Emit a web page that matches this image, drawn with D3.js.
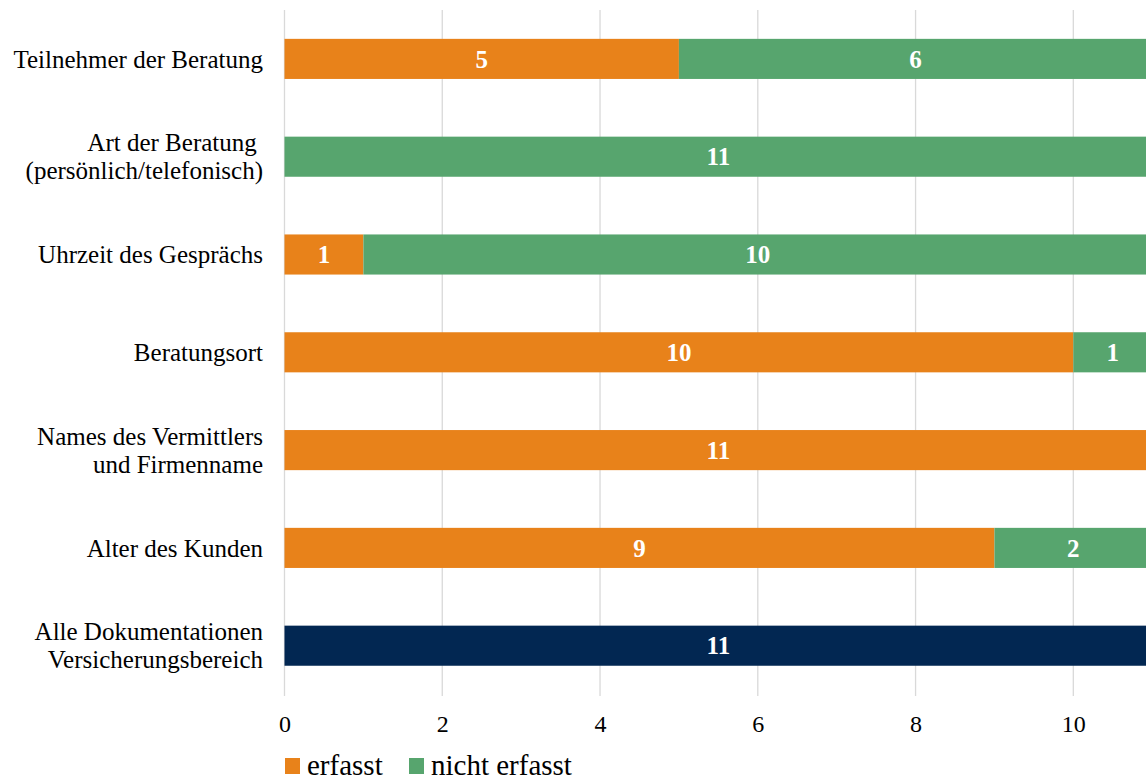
<!DOCTYPE html>
<html>
<head>
<meta charset="utf-8">
<script src="https://cdn.jsdelivr.net/npm/d3@7"></script>
<style>
  html, body { margin: 0; padding: 0; background: #fff; }
  svg { display: block; }
  svg text { font-family: "Liberation Serif", "Times New Roman", serif; }
</style>
</head>
<body>
<svg id="chart" width="1146" height="780"></svg>
<script>
// Kategorien (jeweils Zeilen des Beschriftungstextes), von oben nach unten
const categories = [
  ["Teilnehmer der Beratung"],
  ["Art der Beratung ", "(persönlich/telefonisch)"],
  ["Uhrzeit des Gesprächs"],
  ["Beratungsort"],
  ["Names des Vermittlers", "und Firmenname"],
  ["Alter des Kunden"],
  ["Alle Dokumentationen", "Versicherungsbereich"]
];
const erfasst      = [5, 0, 1, 10, 11, 9, 0];
const nichtErfasst = [6, 11, 10, 1, 0, 2, 0];
const gesamt       = [0, 0, 0, 0, 0, 0, 11];
const xTicks = [0, 2, 4, 6, 8, 10];
const legendLabels = ["erfasst", "nicht erfasst"];

const colors = { erfasst: "#E8821A", nicht: "#57A56E", gesamt: "#022752" };
const FONT = "Liberation Serif";

const svg = d3.select("#chart");
const x = d3.scaleLinear().domain([0, 11]).range([284.5, 1152.2]);
const y = d3.scaleBand().domain(d3.range(categories.length)).range([10, 694.6]).paddingInner(0.59).paddingOuter(0.295);

// vertikale Gitterlinien
svg.append("g").selectAll("line").data(xTicks).join("line")
  .attr("x1", d => x(d)).attr("x2", d => x(d))
  .attr("y1", 10).attr("y2", 696)
  .attr("stroke", "#d9d9d9").attr("stroke-width", 1.3);

// gestapelte Segmente
const rows = categories.map((c, i) => ({ i, segs: [
  { v: erfasst[i], start: 0, color: colors.erfasst },
  { v: nichtErfasst[i], start: erfasst[i], color: colors.nicht },
  { v: gesamt[i], start: erfasst[i] + nichtErfasst[i], color: colors.gesamt }
].filter(s => s.v > 0) }));

const segs = rows.flatMap(r => r.segs.map(s => ({ ...s, i: r.i })));

svg.append("g").selectAll("rect").data(segs).join("rect")
  .attr("x", d => x(d.start))
  .attr("width", d => x(d.start + d.v) - x(d.start))
  .attr("y", d => y(d.i))
  .attr("height", y.bandwidth())
  .attr("fill", d => d.color);

svg.append("g").selectAll("text").data(segs).join("text")
  .attr("x", d => x(d.start + d.v / 2))
  .attr("y", d => y(d.i) + y.bandwidth() / 2)
  .attr("dy", "0.35em")
  .attr("text-anchor", "middle")
  .attr("fill", "#fff")
  .attr("font-family", FONT)
  .attr("font-weight", "bold")
  .attr("font-size", 25)
  .text(d => d.v);

// Kategorienbeschriftung
const catG = svg.append("g");
categories.forEach((lines, i) => {
  const cy = y(i) + y.bandwidth() / 2;
  const lh = 28;
  lines.forEach((t, k) => {
    catG.append("text")
      .attr("x", 263)
      .attr("y", cy + (k - (lines.length - 1) / 2) * lh)
      .attr("dy", "0.35em")
      .attr("text-anchor", "end")
      .attr("font-family", FONT)
      .attr("font-size", 25)
      .attr("fill", "#000")
      .style("white-space", "pre")
      .text(t);
  });
});

// x-Achse
const xAxis = d3.axisBottom(x).tickValues(xTicks).tickSize(0).tickPadding(0);
const ax = svg.append("g").attr("transform", "translate(0,715)").call(xAxis);
ax.select(".domain").remove();
ax.selectAll("text").attr("font-size", 24).attr("font-family", FONT).attr("fill", "#000").attr("dy", "0.71em");

// Legende
const leg = svg.append("g").attr("transform", "translate(285,758)");
const legItems = [
  { label: legendLabels[0], color: colors.erfasst, x: 0 },
  { label: legendLabels[1], color: colors.nicht, x: 124 }
];
leg.selectAll("rect").data(legItems).join("rect")
  .attr("x", d => d.x).attr("y", 0).attr("width", 15).attr("height", 16)
  .attr("fill", d => d.color);
leg.selectAll("text").data(legItems).join("text")
  .attr("x", d => d.x + 22).attr("y", 17)
  .attr("font-family", FONT)
  .attr("font-size", 29).attr("fill", "#000")
  .text(d => d.label);
</script>
</body>
</html>
